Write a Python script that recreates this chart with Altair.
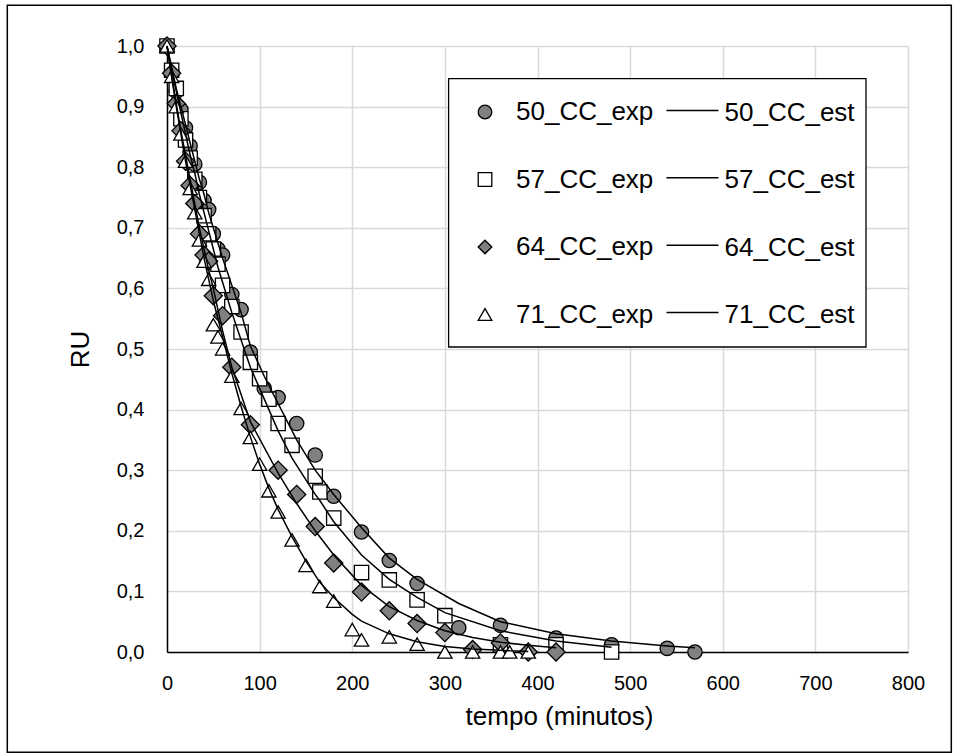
import altair as alt
import pandas as pd

# ---------------- data ----------------
t50 = [0, 5, 10, 15, 20, 25, 30, 35, 40, 45, 50, 55, 60, 70, 80, 90, 105, 120, 140, 160,
       180, 210, 240, 270, 315, 360, 420, 480, 540, 570]
exp50 = [1.0, 0.96, 0.925, 0.895, 0.865, 0.835, 0.805, 0.775, 0.745, 0.73, 0.69, 0.665, 0.655,
         0.59, 0.565, 0.495, 0.435, 0.42, 0.377, 0.325, 0.257, 0.198, 0.151, 0.113, 0.04, 0.044,
         0.023, 0.012, 0.006, 0.0]
est50 = [1.0, 0.965, 0.93, 0.9, 0.87, 0.84, 0.81, 0.78, 0.755, 0.725, 0.70, 0.675, 0.65,
         0.605, 0.56, 0.505, 0.455, 0.41, 0.35, 0.30, 0.26, 0.205, 0.155, 0.12, 0.08, 0.05,
         0.03, 0.018, 0.01, 0.007]

t57 = [0, 5, 10, 15, 20, 25, 30, 35, 40, 45, 50, 55, 60, 70, 80, 90, 100, 110, 120, 135,
       160, 165, 180, 210, 240, 270, 300, 360, 420, 480]
exp57 = [1.0, 0.96, 0.93, 0.88, 0.845, 0.815, 0.78, 0.75, 0.72, 0.69, 0.665, 0.64, 0.605,
         0.57, 0.528, 0.478, 0.451, 0.417, 0.377, 0.341, 0.29, 0.264, 0.221, 0.131, 0.119,
         0.086, 0.06, 0.012, 0.012, 0.0]
est57 = [1.0, 0.96, 0.925, 0.89, 0.855, 0.82, 0.79, 0.755, 0.725, 0.695, 0.665, 0.635, 0.61,
         0.56, 0.515, 0.47, 0.435, 0.40, 0.365, 0.32, 0.26, 0.25, 0.215, 0.16, 0.12, 0.09,
         0.065, 0.035, 0.018, 0.008]

t64 = [0, 5, 10, 15, 20, 25, 30, 35, 40, 45, 50, 60, 70, 90, 120, 140, 160, 180, 210, 240,
       270, 300, 330, 360, 390, 420]
exp64 = [1.0, 0.955, 0.905, 0.86, 0.81, 0.77, 0.74, 0.69, 0.655, 0.645, 0.588, 0.555, 0.47,
         0.375, 0.3, 0.26, 0.207, 0.147, 0.099, 0.068, 0.047, 0.032, 0.004, 0.015, 0.0, 0.0]
est64 = [1.0, 0.95, 0.905, 0.86, 0.82, 0.78, 0.74, 0.70, 0.665, 0.63, 0.60, 0.53, 0.47,
         0.38, 0.295, 0.245, 0.20, 0.16, 0.11, 0.075, 0.052, 0.035, 0.024, 0.016, 0.011, 0.007]

t71 = [0, 5, 10, 15, 20, 25, 30, 35, 40, 45, 50, 55, 60, 70, 80, 90, 100, 110, 120, 135,
       150, 165, 180, 200, 210, 240, 270, 300, 330, 360, 370, 390]
exp71 = [1.0, 0.95, 0.9, 0.855, 0.81, 0.765, 0.725, 0.68, 0.645, 0.615, 0.54, 0.52, 0.5,
         0.455, 0.402, 0.354, 0.31, 0.266, 0.231, 0.185, 0.143, 0.108, 0.084, 0.037, 0.02,
         0.025, 0.013, 0.0, 0.0, 0.0, 0.0, 0.0]
est71 = [1.0, 0.95, 0.9, 0.855, 0.81, 0.77, 0.73, 0.69, 0.65, 0.615, 0.58, 0.55, 0.52,
         0.46, 0.405, 0.355, 0.31, 0.27, 0.235, 0.19, 0.15, 0.115, 0.09, 0.062, 0.051,
         0.03, 0.017, 0.009, 0.005, 0.003, 0.002, 0.001]

exp_names = ["50_CC_exp", "57_CC_exp", "64_CC_exp", "71_CC_exp"]
est_names = ["50_CC_est", "57_CC_est", "64_CC_est", "71_CC_est"]
x_ticks = [0, 100, 200, 300, 400, 500, 600, 700, 800]
y_ticks = [0.0, 0.1, 0.2, 0.3, 0.4, 0.5, 0.6, 0.7, 0.8, 0.9, 1.0]

series = [(t50, exp50, est50), (t57, exp57, est57), (t64, exp64, est64), (t71, exp71, est71)]
rows_exp, rows_est = [], []
for (t, e, s), ne, ns in zip(series, exp_names, est_names):
    for ti, ei, si in zip(t, e, s):
        rows_exp.append({"t": ti, "ru": ei, "serie": ne})
        rows_est.append({"t": ti, "ru": si, "serie": ns})
df_exp = pd.DataFrame(rows_exp)
df_est = pd.DataFrame(rows_est)

FONT = "Liberation Sans"
W, H = 741, 606
LEG_FS = 26

x_enc = alt.X("t:Q", scale=alt.Scale(domain=[0, 800], nice=False),
              axis=alt.Axis(values=x_ticks, title="tempo (minutos)", labelFlush=False,
                            titleX=392))
y_enc = alt.Y("ru:Q", scale=alt.Scale(domain=[0, 1], nice=False),
              axis=alt.Axis(values=y_ticks, title="RU", labelFlush=False,
                            labelExpr="replace(format(datum.value, '.1f'), '.', ',')"))

exp_legend = alt.Legend(orient="none", legendX=305, legendY=53, symbolSize=185,
                        labelOffset=18, labelFontSize=LEG_FS, labelFont=FONT,
                        labelColor="black", rowPadding=41.5, symbolStrokeWidth=1.3,
                        padding=0)
est_legend = alt.Legend(orient="none", legendX=498.5, legendY=40,
                        symbolType="M-1,-0.095H1",
                        symbolSize=2704, labelOffset=5, labelFontSize=LEG_FS, labelFont=FONT,
                        labelColor="black", rowPadding=27.3, symbolStrokeWidth=1.5,
                        symbolStrokeColor="black", symbolFillColor="transparent", padding=0)

points = alt.Chart(df_exp).mark_point(filled=True, strokeWidth=1.3, opacity=1).encode(
    x=x_enc, y=y_enc,
    shape=alt.Shape("serie:N", title=None,
                    scale=alt.Scale(domain=exp_names,
                                    range=["circle", "square", "diamond", "triangle-up"]),
                    legend=exp_legend),
    fill=alt.Fill("serie:N", title=None,
                  scale=alt.Scale(domain=exp_names,
                                  range=["#808080", "white", "#808080", "white"]),
                  legend=exp_legend),
    stroke=alt.Stroke("serie:N", title=None,
                      scale=alt.Scale(domain=exp_names, range=["black"] * 4),
                      legend=exp_legend),
    size=alt.condition("datum.serie == '64_CC_exp'", alt.value(330), alt.value(205)),
)

lines = alt.Chart(df_est).mark_line(strokeWidth=1.5).encode(
    x="t:Q", y="ru:Q",
    color=alt.Color("serie:N", title=None,
                    scale=alt.Scale(domain=est_names, range=["black"] * 4),
                    legend=est_legend),
)

one = pd.DataFrame({"k": [0]})
legend_box = alt.Chart(one).mark_rect(fill="white", stroke="black", strokeWidth=1.3).encode(
    x=alt.value(281.6), x2=alt.value(699), y=alt.value(32.6), y2=alt.value(301))
frame = alt.Chart(one).mark_rect(fill=None, stroke="black", strokeWidth=1.5).encode(
    x=alt.value(-159.7), x2=alt.value(784.3), y=alt.value(-40.7), y2=alt.value(706.3))

chart = alt.layer(legend_box, points, lines, frame).resolve_scale(
    color="independent").properties(
    width=W, height=H, padding={"left": 6, "top": 4, "right": 0, "bottom": 0},
    background="white",
).configure_view(stroke=None).configure_axis(
    labelFont=FONT, labelFontSize=20, labelColor="black", titleFont=FONT,
    titleFontWeight="normal", titleColor="black", gridColor="#d9d9d9", gridWidth=1.5,
    domainColor="black", domainWidth=1.5, ticks=False,
).configure_axisX(labelPadding=21, titleFontSize=26, titlePadding=10).configure_axisY(
    labelPadding=23, titleFontSize=26, titlePadding=23)

chart.save("out.html", embed_options={"renderer": "svg", "actions": False})
